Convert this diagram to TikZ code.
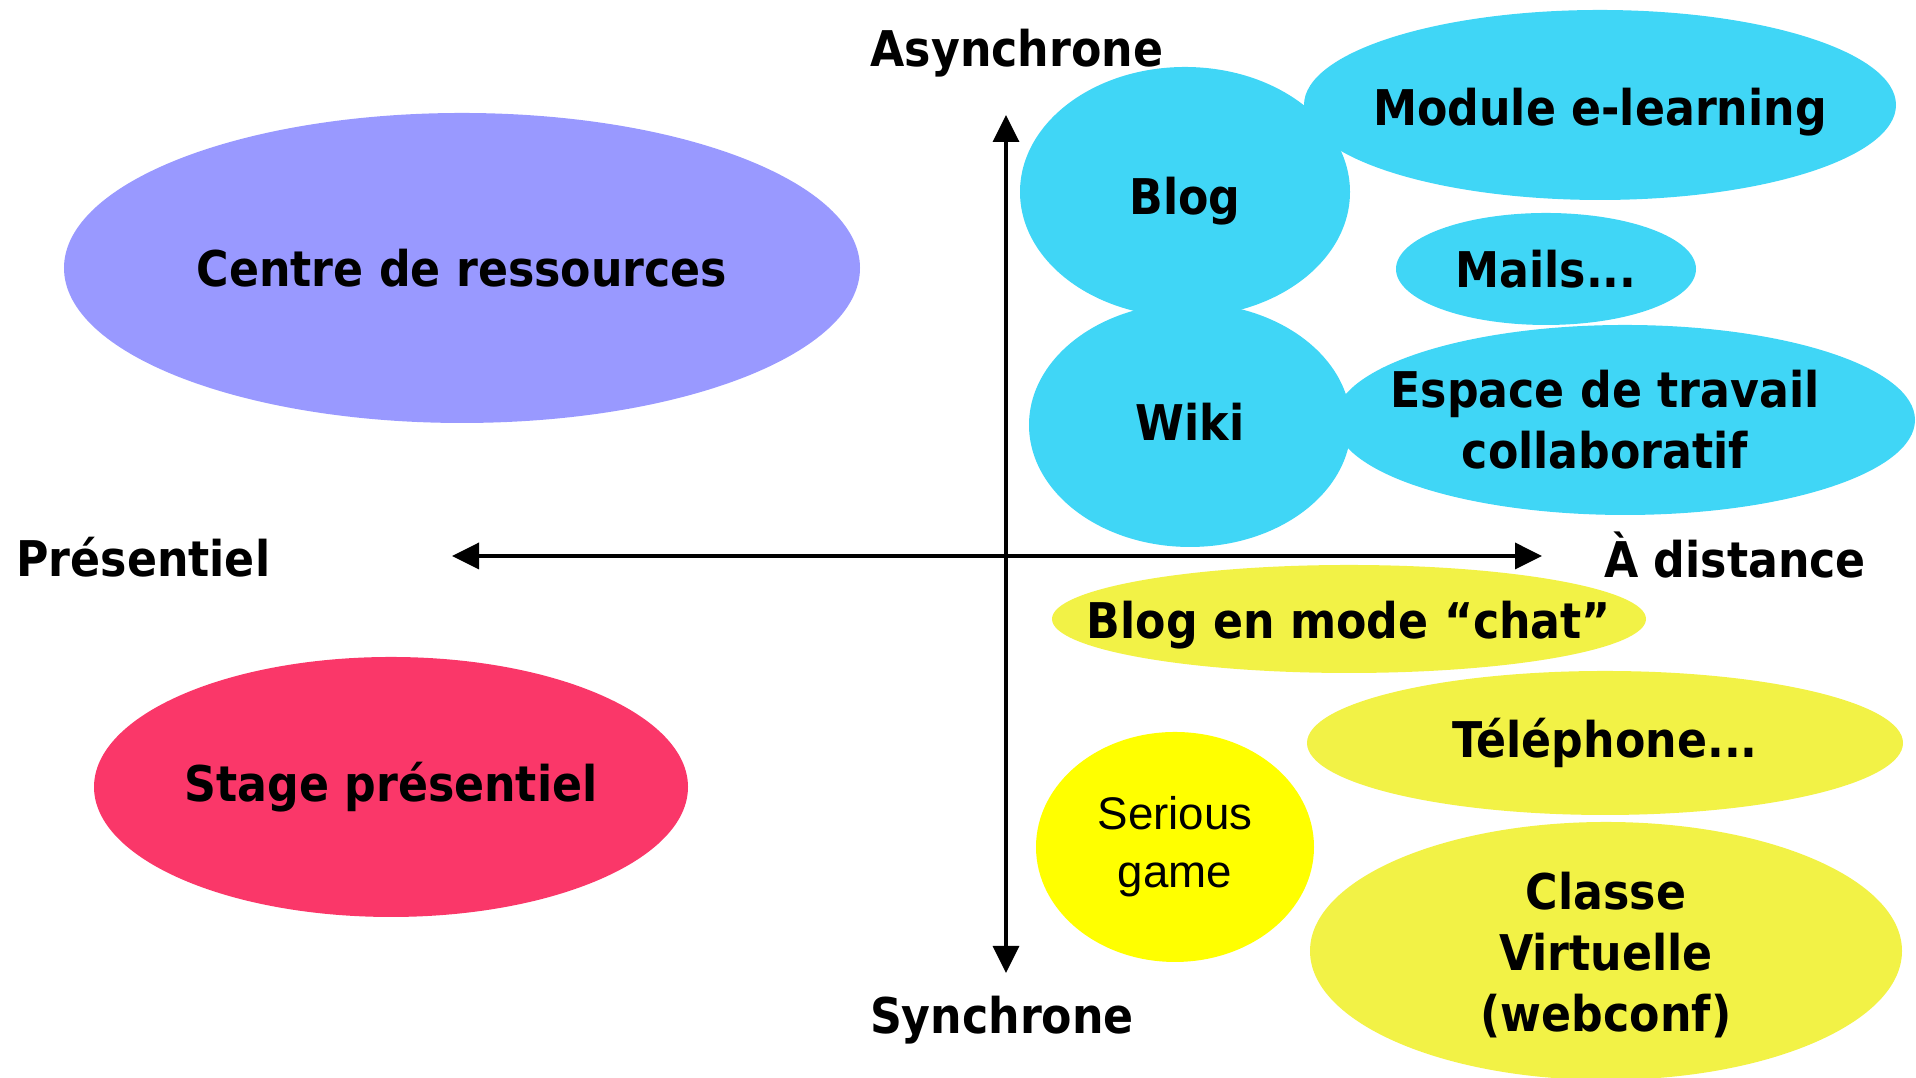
\documentclass[tikz,border=0pt]{standalone}
\usepackage{fontspec}
\setmainfont{DejaVu Sans}[FakeStretch=0.9]
\newfontfamily\sgfont{Liberation Sans}
\usetikzlibrary{shapes.geometric,arrows.meta,positioning}
\definecolor{bleuciel}{RGB}{64,214,246}
\definecolor{lavande}{RGB}{153,153,255}
\definecolor{rosevif}{RGB}{250,55,105}
\definecolor{jaunepale}{RGB}{242,242,70}
\definecolor{jaunevif}{RGB}{255,255,0}
\begin{document}
\begin{tikzpicture}[>={Triangle[length=2.7mm, width=2.6mm]},
    font=\fontsize{14}{17.3}\selectfont\bfseries,
    bulle/.style={ellipse, inner sep=0pt},
    every label/.style={align=center},
    axe/.style={line width=1pt}]
\useasboundingbox (0,0) rectangle (19.16,10.78);
\coordinate (haut) at (10.06,9.63);
\coordinate (bas) at (10.06,1.05);
\coordinate (gauche) at (4.52,5.22);
\coordinate (droite) at (15.42,5.22);
\draw[axe, <->](gauche)--(droite);
\draw[axe, <->](haut)--(bas);
\node (asyn) at (10.17,10.25) {Asynchrone};
\node (syn) at (10.02,0.58) {Synchrone};
\node[anchor=west] (pres) at (0.04,5.21) {Présentiel};
\node (dist) at (17.35,5.23) {À distance};

\node[bulle, fill=lavande, minimum width=7.96cm, minimum height=3.10cm, label=center:Centre de ressources] (centre) at (4.62,8.10) {};
\node[bulle, fill=rosevif, minimum width=5.94cm, minimum height=2.60cm, label=center:Stage présentiel] (stage) at (3.91,2.91) {};

\node[bulle, fill=bleuciel, minimum width=5.92cm, minimum height=1.90cm, label={[yshift=-.07cm]center:Module e-learning}] (module) at (16.00,9.73) {};
\node[bulle, fill=bleuciel, minimum width=3.22cm, minimum height=2.44cm, label={[yshift=.03cm]center:Wiki}] (wiki) at (11.90,6.53) {};
\node[bulle, fill=bleuciel, minimum width=3.30cm, minimum height=2.50cm, label={[yshift=-.09cm]center:Blog}] (blog) at (11.85,8.86) {};
\node[bulle, fill=bleuciel, minimum width=3.00cm, minimum height=1.12cm, label=center:Mails...] (mails) at (15.46,8.09) {};
\node[bulle, fill=bleuciel, minimum width=5.80cm, minimum height=1.90cm, label={[xshift=-.2cm]center:Espace de travail\\collaboratif}] (espace) at (16.25,6.58) {};

\node[bulle, fill=jaunepale, minimum width=5.94cm, minimum height=1.08cm, label={[yshift=-.06cm]center:Blog en mode “chat”}] (chat) at (13.49,4.59) {};
\node[bulle, fill=jaunepale, minimum width=5.96cm, minimum height=1.44cm, label=center:Téléphone...] (tel) at (16.05,3.35) {};
\node[bulle, fill=jaunevif, minimum width=2.78cm, minimum height=2.30cm, label={[font=\fontsize{13}{16.5}\selectfont\sgfont]center:Serious\\game}] (serious) at (11.75,2.31) {};
\node[bulle, fill=jaunepale, minimum width=5.92cm, minimum height=2.58cm, label={[yshift=-.04cm]center:Classe\\Virtuelle\\(webconf)}] (classe) at (16.06,1.27) {};
\end{tikzpicture}
\end{document}
